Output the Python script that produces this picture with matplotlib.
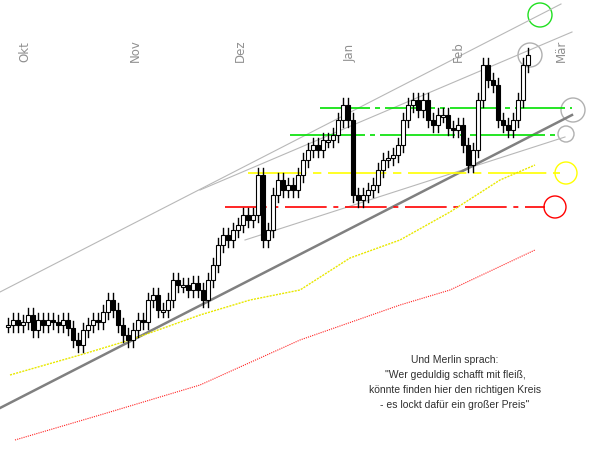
import matplotlib
matplotlib.use("Agg")
import matplotlib.pyplot as plt
from matplotlib.patches import Circle, Rectangle

# bar positions (x) and closes (screen units, smaller = higher price)
bar_x = list(range(8, 531, 5))
closes = [325,320,325,322,315,330,320,325,320,322,325,320,328,340,345,330,325,320,322,312,
          300,310,325,335,340,330,320,322,300,295,310,310,300,280,285,285,290,283,290,300,
          280,265,245,235,240,230,225,215,220,215,175,240,230,195,180,190,185,190,175,160,
          150,145,150,140,140,135,120,105,120,195,200,195,190,185,170,160,158,155,145,120,
          105,100,110,100,120,125,115,115,128,130,125,145,165,150,100,65,80,85,120,125,
          130,120,100,65,55]
closes = closes[:len(bar_x)]
bar_x = bar_x[:len(closes)]

months = ["Okt", "Nov", "Dez", "Jan", "Feb", "Mär"]
month_x = [25, 135, 240, 350, 458, 561]

ma_yellow_x = [10, 80, 130, 200, 250, 300, 350, 400, 450, 500, 535]
ma_yellow_y = [375, 355, 340, 315, 300, 290, 258, 240, 212, 180, 165]
ma_red_x = [15, 100, 200, 300, 400, 450, 535]
ma_red_y = [440, 415, 385, 340, 305, 290, 250]

quote = ["Und Merlin sprach:", "\"Wer geduldig schafft mit fleiß,",
         "könnte finden hier den richtigen Kreis", "- es lockt dafür ein großer Preis\""]

fig = plt.figure(figsize=(5.99, 4.49), dpi=100)
ax = fig.add_axes([0, 0, 1, 1])
ax.set_xlim(0, 599)
ax.set_ylim(449, 0)
ax.axis("off")

# channel lines
ax.plot([0, 561], [292, 4], color="#b8b8b8", lw=0.8)
ax.plot([200, 572], [190, 32], color="#b8b8b8", lw=0.8)
ax.plot([245, 565], [240, 137], color="#b8b8b8", lw=0.8)
ax.plot([0, 572], [408, 115], color="#808080", lw=1.8)

# horizontal levels
ax.plot([320, 572], [108, 108], color="#00e000", lw=1.2, dashes=[30, 3, 3, 3])
ax.plot([290, 560], [135, 135], color="#00e000", lw=1.2, dashes=[45, 3, 3, 3])
ax.plot([248, 560], [173, 173], color="#ffff00", lw=1.2, dashes=[35, 4, 5, 4])
ax.plot([225, 545], [207, 207], color="#ff0000", lw=1.2, dashes=[25, 4, 3, 4])

# moving averages
ax.plot(ma_yellow_x, ma_yellow_y, color="#e8e800", lw=1.0, ls=(0, (1.5, 0.8)))
ax.plot(ma_red_x, ma_red_y, color="#ff2020", lw=0.8, ls=(0, (1, 1)))

# candles
prev = closes[0]
for x, c in zip(bar_x, closes):
    o = prev
    top, bot = min(o, c), max(o, c)
    ax.plot([x, x], [top - 7, bot + 7], color="black", lw=1)
    h = max(bot - top, 1.5)
    ax.add_patch(Rectangle((x - 1.7, top), 3.4, h, facecolor="black" if c > o else "white",
                           edgecolor="black", lw=0.8, zorder=3))
    prev = c

# circles
for (cx, cy, r, col) in [(540, 15, 12, "#20e020"), (530, 55, 12, "#b0b0b0"),
                         (573, 110, 12, "#b0b0b0"), (566, 134, 8, "#b0b0b0"),
                         (566, 173, 11, "#ffff00"), (555, 207, 11, "#ff0000")]:
    ax.add_patch(Circle((cx, cy), r, fill=False, edgecolor=col, lw=1))

for m, x in zip(months, month_x):
    ax.text(x, 62, m, rotation=90, ha="center", va="bottom", color="#909090", fontsize=8.5)

for i, line in enumerate(quote):
    ax.text(455, 360 + i * 15, line, ha="center", va="center", color="#303030",
            fontsize=7.5, family="Liberation Sans")

fig.savefig("out.png", dpi=100)
